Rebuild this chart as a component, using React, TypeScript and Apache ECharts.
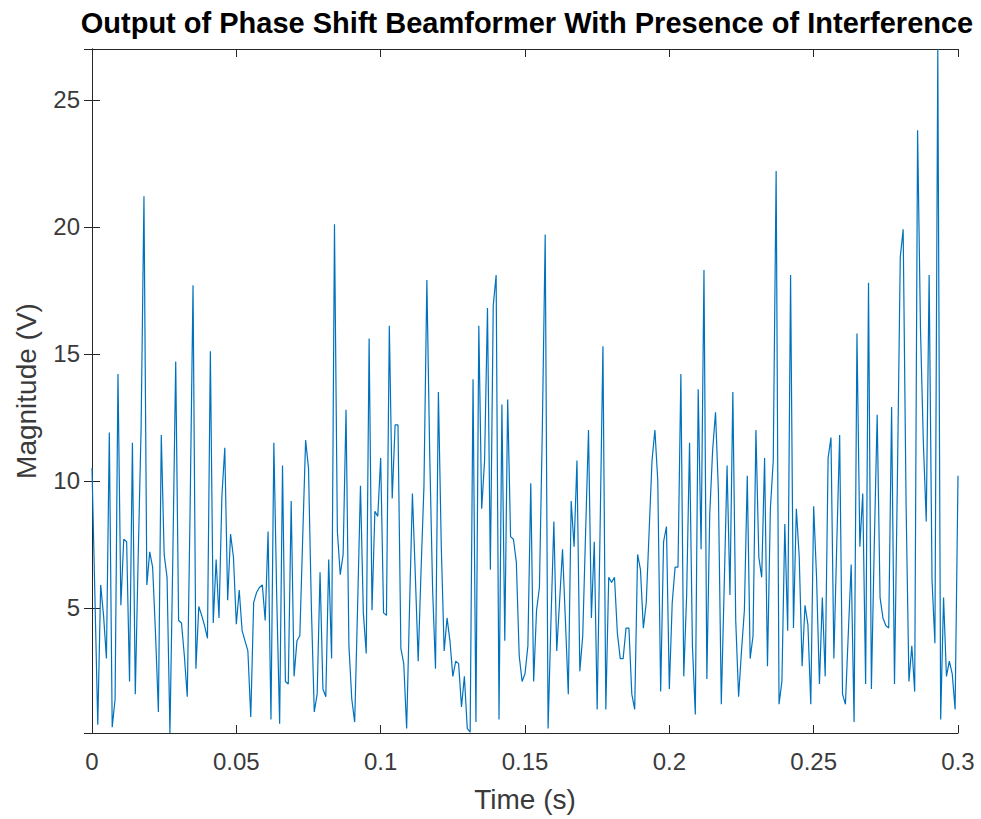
import React, { useEffect, useRef } from "react";
import * as echarts from "echarts";

const TITLE = "Output of Phase Shift Beamformer With Presence of Interference";
const X_LABEL = "Time (s)";
const Y_LABEL = "Magnitude (V)";
const SAMPLE_STEP = 0.001; // seconds between samples
const X_TICKS = [0, 0.05, 0.1, 0.15, 0.2, 0.25, 0.3];
const Y_TICKS = [5, 10, 15, 20, 25];

const magnitude: number[] = [
  10.5, 5.5, 0.4, 5.9, 4.7, 3.0, 11.9, 0.3, 1.4, 14.2,
  5.1, 7.7, 7.6, 2.1, 11.5, 1.6, 7.0, 12.0, 21.2, 5.9,
  7.2, 6.6, 4.0, 0.9, 11.8, 7.1, 6.2, 0.07, 7.0, 14.7,
  4.5, 4.4, 3.1, 1.5, 9.0, 17.7, 2.6, 5.05, 4.7, 4.3,
  3.8, 15.1, 4.4, 6.9, 4.6, 9.4, 11.3, 5.3, 7.9, 7.0,
  4.35, 5.7, 4.1, 3.7, 3.3, 0.7, 5.2, 5.6, 5.8, 5.9,
  4.5, 8.0, 0.6, 11.5, 5.4, 0.43, 10.6, 2.1, 2.0, 9.2,
  2.3, 3.7, 3.9, 7.8, 11.6, 10.5, 5.0, 0.9, 1.6, 6.4,
  1.8, 1.5, 6.9, 3.0, 20.1, 8.0, 6.3, 7.1, 12.8, 3.5,
  1.4, 0.5, 5.0, 9.8, 4.8, 3.2, 15.6, 4.9, 8.8, 8.6,
  10.9, 4.8, 4.7, 16.1, 9.3, 12.2, 12.2, 3.4, 2.8, 0.25,
  5.0, 9.5, 6.3, 2.9, 6.5, 9.8, 17.9, 11.0, 5.7, 2.6,
  13.5, 7.4, 3.3, 4.6, 3.7, 2.3, 2.9, 2.8, 1.1, 2.3,
  0.25, 0.1, 14.0, 0.5, 16.1, 8.9, 10.8, 16.8, 6.5, 16.9,
  18.1, 0.6, 13.0, 3.7, 13.2, 7.8, 7.7, 6.8, 3.1, 2.1,
  2.4, 3.5, 9.9, 2.1, 4.9, 5.8, 12.0, 19.7, 0.25, 4.5,
  8.4, 3.3, 5.3, 7.3, 4.5, 1.6, 9.2, 7.4, 10.8, 2.5,
  3.9, 8.0, 12.0, 4.6, 7.6, 1.0, 8.0, 15.3, 1.0, 6.2,
  6.0, 6.2, 4.0, 3.0, 3.0, 4.2, 4.2, 1.6, 1.0, 7.1,
  6.5, 4.2, 5.2, 8.0, 10.8, 12.0, 10.0, 1.7, 7.6, 8.2,
  1.8, 5.2, 6.6, 6.6, 14.2, 2.3, 5.5, 11.5, 3.5, 0.8,
  13.6, 7.3, 18.3, 2.2, 8.7, 11.2, 12.7, 9.6, 1.2, 5.8,
  10.6, 5.5, 13.5, 4.5, 1.5, 3.3, 4.9, 10.2, 3.0, 3.9,
  12.0, 7.0, 6.2, 10.9, 2.7, 8.9, 10.8, 22.2, 1.2, 2.1,
  8.3, 4.1, 18.1, 4.2, 8.9, 7.0, 2.7, 5.1, 4.35, 1.2,
  9.0, 6.2, 2.0, 5.4, 2.3, 10.9, 11.7, 3.0, 7.5, 11.8,
  1.6, 1.2, 4.0, 6.7, 0.5, 15.8, 7.4, 9.5, 2.0, 17.8,
  1.8, 7.5, 12.6, 5.4, 4.6, 4.3, 4.2, 12.9, 2.0, 10.0,
  18.8, 19.9, 9.2, 2.1, 3.5, 1.7, 23.8, 16.0, 11.5, 8.4,
  18.1, 6.1, 3.6, 27.0, 0.6, 5.4, 2.3, 2.9, 2.4, 1.0,
  10.2,
];

const Y_MIN = 0.07;
const Y_MAX = 27.0;

export default function App() {
  const ref = useRef<HTMLDivElement>(null);

  useEffect(() => {
    if (!ref.current) return;
    const chart = echarts.init(ref.current, null, { renderer: "svg" });
    const font = "Liberation Sans";
    const axisColor = "#262626";
    const labelColor = "#3a3a3a";
    const lineStyle = { color: axisColor, width: 1 };
    const grid = { left: 92, top: 49, width: 866, height: 684 };

    const data = magnitude.map((v, i) => [+(i * SAMPLE_STEP).toFixed(3), v]);

    const xLabelFmt = (v: number) => {
      const hit = X_TICKS.find((t) => Math.abs(t - v) < 1e-9);
      return hit === undefined ? "" : String(hit);
    };
    const yLabelFmt = (v: number) => {
      const hit = Y_TICKS.find((t) => Math.abs(t - v) < 1e-9);
      return hit === undefined ? "" : String(hit);
    };

    chart.setOption({
      animation: false,
      backgroundColor: "#ffffff",
      textStyle: { fontFamily: font },
      grid,
      graphic: [
        {
          type: "text",
          x: grid.left + grid.width / 2 + 2,
          y: 23,
          style: {
            text: TITLE,
            fontFamily: font,
            fontSize: 29,
            fontWeight: "bold",
            fill: "#000000",
            align: "center",
            verticalAlign: "middle",
          },
        },
      ],
      xAxis: [
        {
          type: "value",
          position: "bottom",
          min: 0,
          max: 0.3,
          interval: 0.05,
          axisLine: { show: true, lineStyle },
          axisTick: { show: true, inside: true, length: 8, lineStyle },
          splitLine: { show: false },
          axisLabel: {
            color: labelColor,
            fontSize: 24,
            fontFamily: font,
            margin: 16,
            formatter: xLabelFmt,
          },
          name: X_LABEL,
          nameLocation: "middle",
          nameGap: 52,
          nameTextStyle: { color: labelColor, fontSize: 28, fontFamily: font },
        },
        {
          type: "value",
          position: "top",
          min: 0,
          max: 0.3,
          interval: 0.05,
          axisLine: { show: true, lineStyle },
          axisTick: { show: true, inside: true, length: 8, lineStyle },
          splitLine: { show: false },
          axisLabel: { show: false },
        },
      ],
      yAxis: [
        {
          type: "value",
          position: "left",
          min: Y_MIN,
          max: Y_MAX,
          splitNumber: 5,
          axisLine: { show: true, lineStyle },
          axisTick: { show: true, inside: true, length: 8, lineStyle },
          splitLine: { show: false },
          axisLabel: {
            color: labelColor,
            fontSize: 24,
            fontFamily: font,
            margin: 12,
            showMinLabel: false,
            showMaxLabel: false,
            formatter: yLabelFmt,
          },
          name: Y_LABEL,
          nameLocation: "middle",
          nameGap: 52,
          nameTextStyle: { color: labelColor, fontSize: 28, fontFamily: font },
        },
        {
          type: "value",
          position: "right",
          min: Y_MIN,
          max: Y_MAX,
          splitNumber: 5,
          axisLine: { show: true, lineStyle },
          axisTick: { show: true, inside: true, length: 8, lineStyle },
          splitLine: { show: false },
          axisLabel: { show: false },
        },
      ],
      series: [
        {
          type: "line",
          xAxisIndex: 0,
          yAxisIndex: 0,
          data,
          showSymbol: false,
          symbol: "none",
          lineStyle: { color: "#0072BD", width: 1.2 },
          emphasis: { disabled: true },
        },
      ],
    });

    return () => chart.dispose();
  }, []);

  return (
    <div
      ref={ref}
      style={{ position: "fixed", left: 0, top: 0, width: 981, height: 819, background: "#fff" }}
    />
  );
}
